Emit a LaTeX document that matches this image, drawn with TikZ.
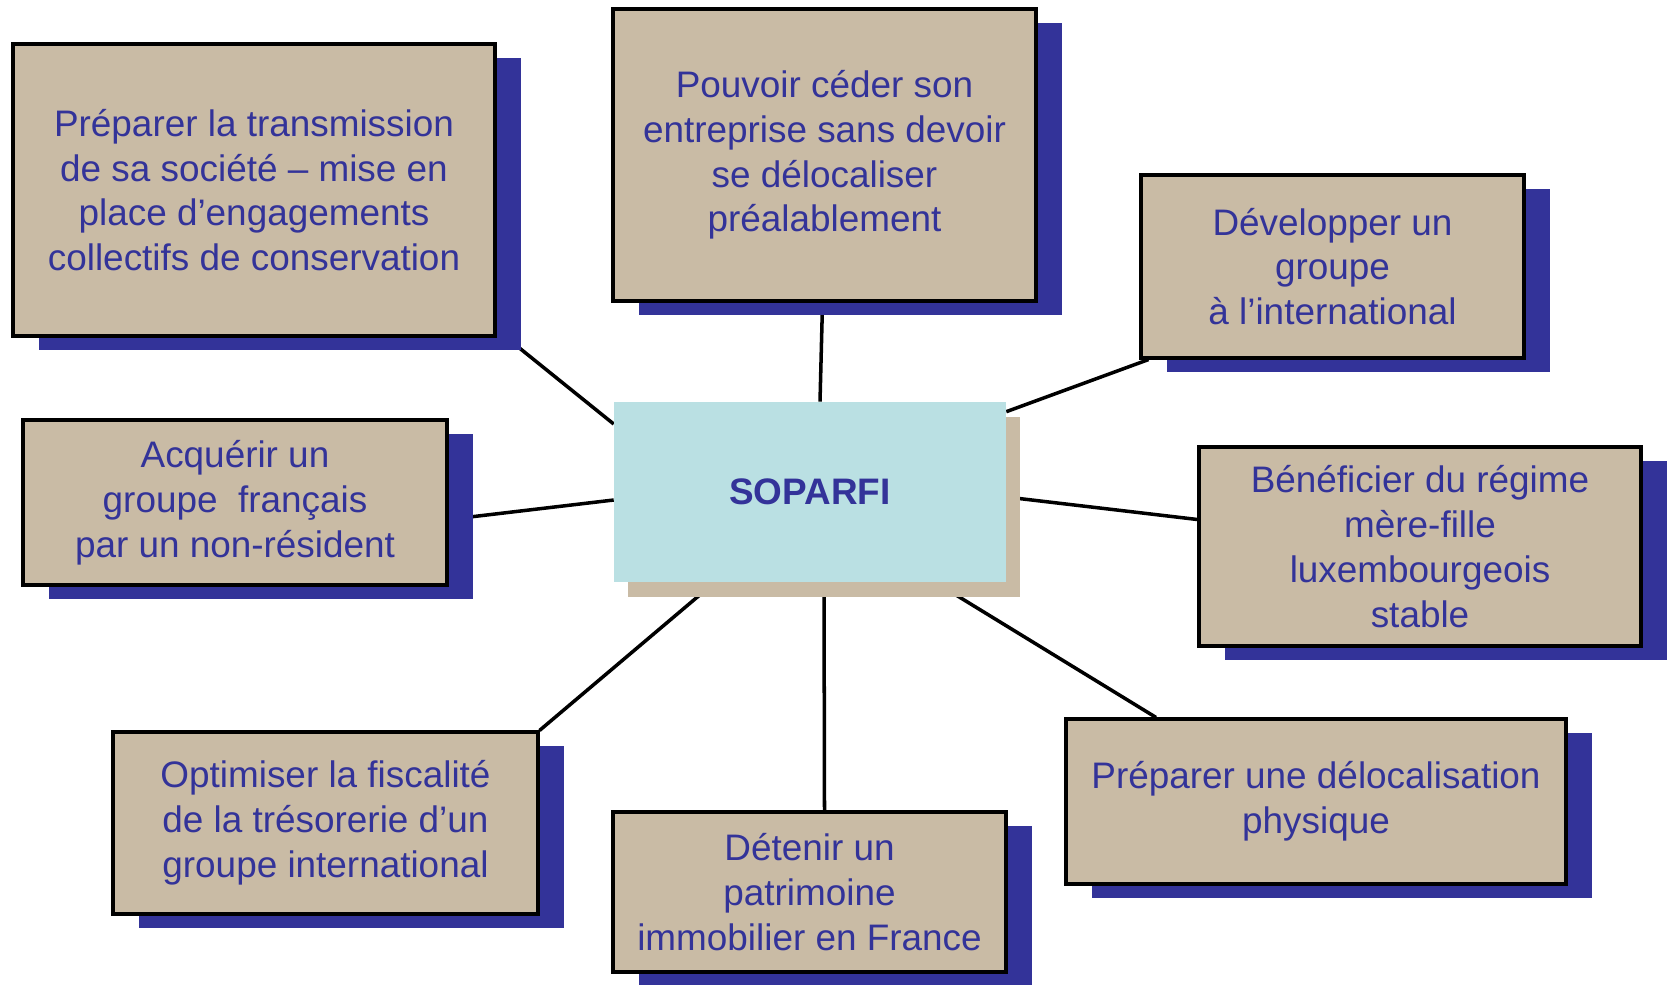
\documentclass[tikz,border=0pt]{standalone}
\usepackage{fontspec}
\setmainfont{Liberation Sans}
\usetikzlibrary{calc}
\usetikzlibrary{shadows}

\definecolor{boxtan}{HTML}{C9BBA5}
\definecolor{shadowblue}{HTML}{333399}
\definecolor{textblue}{HTML}{333399}
\definecolor{hubblue}{HTML}{BAE0E3}

\pgfdeclarelayer{bg}
\pgfdeclarelayer{links}
\pgfsetlayers{bg,links,main}

\tikzset{
  goal/.style={draw=black, line width=1.8pt, fill=boxtan, text=textblue, align=center, inner sep=0pt,
    drop shadow={shadow xshift=.52cm, shadow yshift=-.28cm, fill=shadowblue, opacity=1}},
  hub/.style={fill=hubblue, text=textblue, font=\fontsize{21}{25.5}\selectfont\bfseries, inner sep=0pt,
    drop shadow={shadow xshift=.28cm, shadow yshift=-.3cm, fill=boxtan, opacity=1}},
  link/.style={black, line width=2pt}
}

\begin{document}
\begin{tikzpicture}[x=0.02cm, y=-0.02cm, font=\fontsize{21}{25.5}\selectfont]
\useasboundingbox (0,0) rectangle (1675,984);
\begin{pgfonlayer}{bg}
\fill[white] (0,0) rectangle (1675,984);
\end{pgfonlayer}

\node[hub, minimum width=7.84cm, minimum height=3.6cm] (soparfi) at (810,492) {SOPARFI};

\node[goal, minimum width=9.64cm, minimum height=5.84cm] (transmission) at (254,190)
  {Préparer la transmission\\de sa société – mise en\\place d’engagements\\collectifs de conservation};
\node[goal, minimum width=8.46cm, minimum height=5.84cm] (ceder) at (824.5,155)
  {Pouvoir céder son\\entreprise sans devoir\\se délocaliser\\préalablement};
\node[goal, minimum width=7.66cm, minimum height=3.66cm] (developper) at (1332.5,266.5)
  {Développer un\\groupe\\à l’international};
\node[goal, minimum width=8.84cm, minimum height=3.98cm] (regime) at (1420,546.5)
  {Bénéficier du régime\\mère-fille\\luxembourgeois\\stable};
\node[goal, minimum width=10cm, minimum height=3.3cm] (delocalisation) at (1316,801.5)
  {Préparer une délocalisation\\physique};
\node[goal, minimum width=7.86cm, minimum height=3.2cm] (patrimoine) at (809.5,892)
  {Détenir un\\patrimoine\\immobilier en France};
\node[goal, minimum width=8.5cm, minimum height=3.64cm] (tresorerie) at (325.5,823)
  {Optimiser la fiscalité\\de la trésorerie d’un\\groupe international};
\node[goal, minimum width=8.48cm, minimum height=3.3cm] (acquerir) at (235,502.5)
  {Acquérir un\\groupe\ \ français\\par un non-résident};

\begin{pgfonlayer}{links}
\draw[link] ($(transmission.south east)+(0,-8)$) -- ($(soparfi.west)+(0,-68)$);
\draw[link] ($(ceder.south)+(-2,0)$) -- ($(soparfi.north)+(10,0)$);
\draw[link] ($(developper.south west)+(9,0)$) -- ($(soparfi.north east)+(0,10)$);
\draw[link] ($(regime.west)+(0,-27)$) -- ($(soparfi.east)+(0,5)$);
\draw[link] ($(delocalisation.north)+(-160,0)$) -- ($(soparfi.south east)+(-71,0)$);
\draw[link] ($(patrimoine.north)+(15,0)$) -- ($(soparfi.south)+(14,0)$);
\draw[link] (tresorerie.north east) -- ($(soparfi.south west)+(101,0)$);
\draw[link] ($(acquerir.east)+(0,17)$) -- ($(soparfi.west)+(0,8)$);
\end{pgfonlayer}

\end{tikzpicture}
\end{document}
